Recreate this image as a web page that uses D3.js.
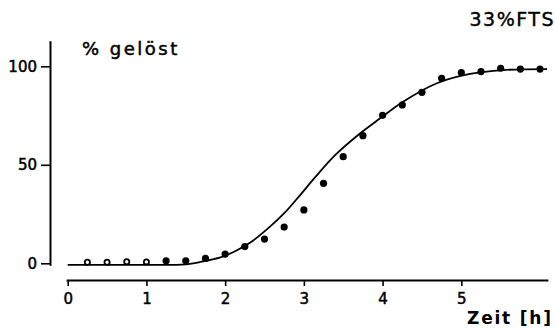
<!DOCTYPE html>
<html>
<head>
<meta charset="utf-8">
<script src="https://cdn.jsdelivr.net/npm/d3@7"></script>
<style>
  body { margin: 0; background: #fff; }
  svg { display: block; font-family: "DejaVu Sans", sans-serif; }
</style>
</head>
<body>
<div id="chart"></div>
<script>
// measured points (Zeit in h, % gelöst)
var times = [0.25, 0.5, 0.75, 1.0, 1.25, 1.5, 1.75, 2.0, 2.25, 2.5, 2.75, 3.0,
             3.25, 3.5, 3.75, 4.0, 4.25, 4.5, 4.75, 5.0, 5.25, 5.5, 5.75, 6.0];
var released = [0.5, 0.5, 0.8, 0.7, 1.3, 1.3, 2.5, 4.7, 8.5, 12.3, 18.4, 27.1,
                40.6, 54.1, 64.8, 75.1, 80.4, 86.8, 93.9, 96.8, 97.3, 99.0, 98.6, 98.6];
// first few points are drawn open
var openCount = 4;

// fitted curve
var fitTimes = [0, 0.5, 1.0, 1.5, 1.7, 1.94, 2.12, 2.32, 2.57, 2.76, 2.95, 3.15,
                3.4, 3.67, 3.97, 4.26, 4.69, 5.11, 5.53, 6.09];
var fitValues = [-0.8, -0.8, -0.8, -0.5, 0.8, 3, 6, 10.5, 18.6, 25.8, 34.5, 44,
                 55, 64.5, 73.6, 82, 91.4, 96.1, 98.1, 98.6];

var xTicks = [0, 1, 2, 3, 4, 5];
var yTicks = [0, 50, 100];

var width = 557, height = 329;

var svg = d3.select("#chart")
            .append("svg")
              .attr("width", width)
              .attr("height", height);

var x = d3.scaleLinear().domain([0, 5]).range([67.7, 461.3]);
var y = d3.scaleLinear().domain([0, 100]).range([263.3, 66.3]);

// axis scales with the same mapping but a longer line
var xAxisScale = x.copy().domain([-0.02, 6.1]).range([x(-0.02), x(6.1)]);
var yAxisScale = y.copy().domain([-1, 113]).range([y(-1), y(113)]);

// x axis
var xAxis = svg.append("g")
    .attr("transform", "translate(0,280)")
    .call(d3.axisBottom(xAxisScale)
            .tickValues(xTicks)
            .tickSize(6)
            .tickSizeOuter(0)
            .tickPadding(7)
            .tickFormat(d3.format("d")));
xAxis.select(".domain").attr("stroke-width", 2.2);
xAxis.selectAll(".tick line").attr("stroke-width", 1.6);
xAxis.selectAll(".tick text")
     .attr("font-size", 15)
     .attr("font-family", "DejaVu Sans")
     .attr("fill", "#000")
     .attr("stroke", "#000")
     .attr("stroke-width", 0.5);

// y axis
var yAxis = svg.append("g")
    .attr("transform", "translate(50,0)")
    .call(d3.axisLeft(yAxisScale)
            .tickValues(yTicks)
            .tickSize(9)
            .tickSizeOuter(0)
            .tickPadding(4)
            .tickFormat(d3.format("d")));
yAxis.select(".domain").attr("stroke-width", 2);
yAxis.selectAll(".tick line").attr("stroke-width", 1.6);
yAxis.selectAll(".tick text")
     .attr("font-size", 15)
     .attr("font-family", "DejaVu Sans")
     .attr("fill", "#000")
     .attr("stroke", "#000")
     .attr("stroke-width", 0.5);

// fitted curve
var line = d3.line()
             .x(function(d, i) { return x(fitTimes[i]); })
             .y(function(d) { return y(d); })
             .curve(d3.curveCatmullRom.alpha(0.5));

svg.append("path")
   .datum(fitValues)
   .attr("d", line)
   .attr("fill", "none")
   .attr("stroke", "#000")
   .attr("stroke-width", 1.8);

// measured points
svg.selectAll(".pt")
   .data(released)
   .enter()
   .append("circle")
     .attr("class", "pt")
     .attr("cx", function(d, i) { return x(times[i]); })
     .attr("cy", function(d) { return y(d); })
     .attr("r", function(d, i) { return i < openCount ? 2.6 : 3.6; })
     .attr("fill", function(d, i) { return i < openCount ? "#fff" : "#000"; })
     .attr("stroke", "#000")
     .attr("stroke-width", function(d, i) { return i < openCount ? 1.8 : 0; });

// labels
svg.append("text")
   .attr("x", 82)
   .attr("y", 55)
   .attr("font-size", 18)
   .attr("letter-spacing", 2.5)
   .attr("stroke", "#000")
   .attr("stroke-width", 0.5)
   .text("% gelöst");

svg.append("text")
   .attr("x", 555)
   .attr("y", 26)
   .attr("text-anchor", "end")
   .attr("font-size", 19)
   .attr("letter-spacing", 1.5)
   .attr("stroke", "#000")
   .attr("stroke-width", 0.4)
   .text("33%FTS");

svg.append("text")
   .attr("x", 467)
   .attr("y", 324)
   .attr("font-size", 17)
   .attr("font-weight", "bold")
   .attr("letter-spacing", 1.8)
   .text("Zeit [h]");
</script>
</body>
</html>
